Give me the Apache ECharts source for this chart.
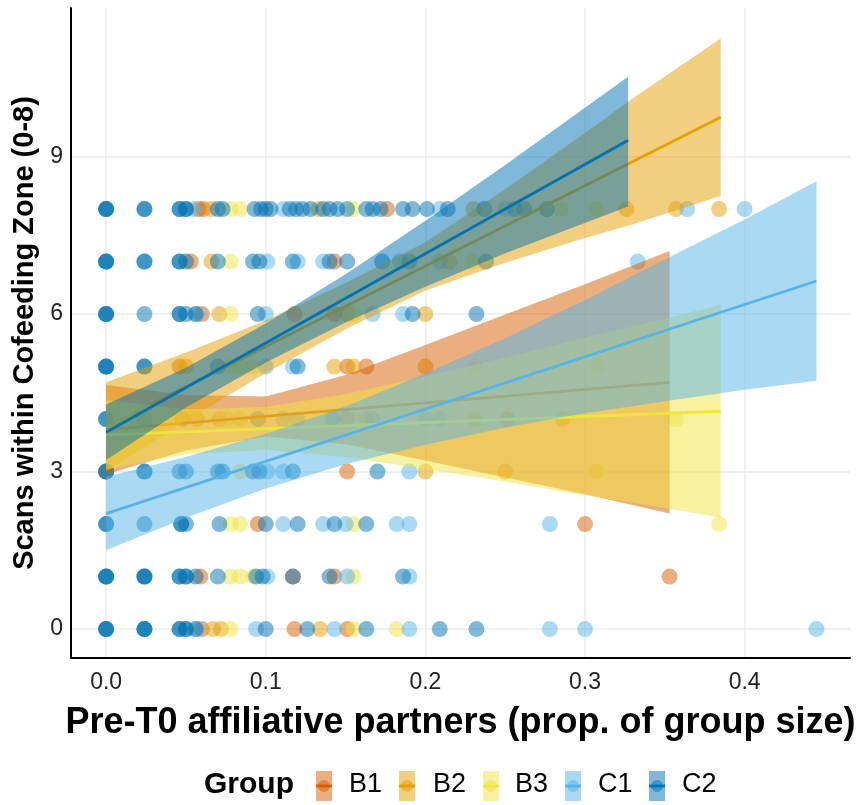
<!DOCTYPE html>
<html><head><meta charset="utf-8">
<script src="https://cdn.jsdelivr.net/npm/echarts@6/dist/echarts.min.js"></script>
<style>html,body{margin:0;padding:0;background:#fff}#c{width:861px;height:805px}</style>
</head><body><div id="c"></div>
<script>
const groups = ['B1','B2','B3','C1','C2'];
const colors = ['#D55E00','#E69F00','#F0E442','#56B4E9','#0072B2'];
const xTicks = [0, 0.1, 0.2, 0.3, 0.4];
const yTicks = [0, 3, 6, 9];
const xTitle = 'Pre-T0 affiliative partners (prop. of group size)';
const yTitle = 'Scans within Cofeeding Zone (0-8)';
const legendTitle = 'Group';

// observed points [x, y] per group
const ptsB1 = [[0.058,8],[0.061,8],[0.176,8],[0.053,7],[0.143,7],[0.06,6],[0.118,6],[0.143,6],
  [0.046,5],[0.151,5],[0.163,5],[0.048,4],[0.151,4],[0.251,4],[0,3],[0.151,3],[0.095,2],[0.3,2],
  [0.059,1],[0.117,1],[0.143,1],[0.353,1],[0.06,0],[0.118,0],[0.151,0]];
const ptsB2 = [[0.066,8],[0.133,8],[0.23,8],[0.326,8],[0.357,8],[0.384,8],[0.066,7],[0.215,7],
  [0.071,6],[0.151,6],[0.2,6],[0.05,5],[0.143,5],[0.155,5],[0.2,5],[0.057,4],[0.071,4],[0.163,4],
  [0.231,4],[0.286,4],[0.2,3],[0.25,3],[0.067,0],[0.072,0],[0.134,0]];
const ptsB3 = [[0.078,8],[0.084,8],[0.155,8],[0.285,8],[0.307,8],[0.078,7],[0.23,7],[0.078,6],[0.155,6],
  [0.078,5],[0.084,5],[0.092,5],[0.231,5],[0.308,5],[0.076,4],[0.084,4],[0.357,4],[0.084,3],[0.307,3],
  [0.078,2],[0.084,2],[0.155,2],[0.384,2],[0.078,1],[0.084,1],[0.092,1],[0.155,1],[0.078,0],[0.155,0],[0.182,0]];
const ptsC1 = [[0.055,8],[0.111,8],[0.209,8],[0.25,8],[0.364,8],[0.40,8],[0.101,7],[0.12,7],[0.136,7],
  [0.184,7],[0.209,7],[0.333,7],[0.057,6],[0.1,6],[0.167,6],[0.186,6],[0.1,5],[0.117,5],[0.111,4],[0.12,4],
  [0.167,4],[0.2,4],[0.209,4],[0.101,3],[0.111,3],[0.19,3],[0.111,2],[0.136,2],[0.15,2],[0.182,2],[0.19,2],
  [0.278,2],[0.101,1],[0.151,1],[0.19,1],[0.057,0],[0.094,0],[0.143,0],[0.19,0],[0.278,0],[0.3,0],[0.445,0]];
const ptsC2 = [[0,8],[0,8],[0,8],[0.024,8],[0.024,8],[0.046,8],[0.046,8],[0.05,8],[0.05,8],[0.07,8],[0.073,8],
  [0.093,8],[0.097,8],[0.1,8],[0.103,8],[0.115,8],[0.119,8],[0.123,8],[0.128,8],[0.136,8],[0.14,8],[0.145,8],
  [0.151,8],[0.163,8],[0.167,8],[0.172,8],[0.186,8],[0.192,8],[0.201,8],[0.214,8],[0.237,8],[0.256,8],[0.262,8],[0.276,8],
  [0,7],[0,7],[0,7],[0.024,7],[0.024,7],[0.046,7],[0.046,7],[0.05,7],[0.07,7],[0.092,7],[0.096,7],[0.117,7],
  [0.14,7],[0.151,7],[0.173,7],[0.19,7],[0.238,7],
  [0,6],[0,6],[0,6],[0.024,6],[0.046,6],[0.046,6],[0.05,6],[0.056,6],[0.095,6],[0.192,6],[0.232,6],
  [0,5],[0,5],[0,5],[0.024,5],[0.024,5],[0.07,5],[0.12,5],
  [0,4],[0,4],[0.024,4],[0.095,4],[0.142,4],
  [0,3],[0,3],[0.024,3],[0.024,3],[0.046,3],[0.05,3],[0.07,3],[0.073,3],[0.092,3],[0.096,3],[0.117,3],[0.17,3],
  [0,2],[0,2],[0.024,2],[0.047,2],[0.047,2],[0.05,2],[0.071,2],[0.1,2],[0.12,2],[0.143,2],[0.163,2],
  [0,1],[0,1],[0,1],[0.024,1],[0.024,1],[0.024,1],[0.046,1],[0.046,1],[0.05,1],[0.05,1],[0.056,1],[0.07,1],
  [0.094,1],[0.098,1],[0.117,1],[0.14,1],[0.186,1],
  [0,0],[0,0],[0,0],[0.024,0],[0.024,0],[0.024,0],[0.046,0],[0.046,0],[0.05,0],[0.05,0],[0.056,0],[0.1,0],
  [0.126,0],[0.163,0],[0.209,0],[0.232,0]];

// fitted lines (endpoints)
const fitB1 = [[0, 3.80], [0.353, 4.70]];
const fitB2 = [[0, 3.85], [0.385, 9.75]];
const fitB3 = [[0, 3.70], [0.385, 4.15]];
const fitC1 = [[0, 2.20], [0.445, 6.63]];
const fitC2 = [[0, 3.75], [0.327, 9.31]];

// confidence bands: x, lower, upper
const bandB1x = [0, 0.05, 0.1, 0.15, 0.2, 0.25, 0.3, 0.353];
const bandB1lo = [2.95, 3.40, 3.67, 3.52, 3.21, 2.89, 2.57, 2.20];
const bandB1hi = [4.65, 4.46, 4.43, 4.84, 5.41, 5.99, 6.57, 7.20];
const bandB2x = [0, 0.05, 0.1, 0.15, 0.2, 0.25, 0.3, 0.33, 0.385];
const bandB2lo = [3.00, 3.97, 4.88, 5.71, 6.45, 6.98, 7.45, 7.71, 8.25];
const bandB2hi = [4.70, 5.27, 5.88, 6.59, 7.37, 8.38, 9.45, 10.11, 11.25];
const bandB3x = [0, 0.05, 0.1, 0.15, 0.2, 0.25, 0.3, 0.35, 0.385];
const bandB3lo = [3.04, 3.33, 3.41, 3.28, 3.05, 2.81, 2.55, 2.31, 2.12];
const bandB3hi = [4.36, 4.19, 4.23, 4.48, 4.81, 5.17, 5.55, 5.91, 6.18];
const bandC1x = [0, 0.05, 0.1, 0.15, 0.2, 0.25, 0.3, 0.35, 0.4, 0.445];
const bandC1lo = [1.50, 2.12, 2.68, 3.14, 3.51, 3.84, 4.11, 4.34, 4.56, 4.73];
const bandC1hi = [2.90, 3.28, 3.72, 4.24, 4.87, 5.54, 6.27, 7.04, 7.80, 8.53];
const bandC2x = [0, 0.05, 0.1, 0.15, 0.2, 0.25, 0.327];
const bandC2lo = [3.22, 4.22, 5.08, 5.84, 6.52, 7.16, 8.05];
const bandC2hi = [4.28, 4.98, 5.82, 6.76, 7.78, 8.84, 10.52];

const pts = [ptsB1, ptsB2, ptsB3, ptsC1, ptsC2];
const fits = [fitB1, fitB2, fitB3, fitC1, fitC2];
const bands = [[bandB1x, bandB1lo, bandB1hi],[bandB2x, bandB2lo, bandB2hi],[bandB3x, bandB3lo, bandB3hi],
  [bandC1x, bandC1lo, bandC1hi],[bandC2x, bandC2lo, bandC2hi]];

const FONT = '"Liberation Sans", Arial, sans-serif';
const chart = echarts.init(document.getElementById('c'), null, {renderer: 'canvas'});

const series = [];
groups.forEach((g, i) => {
  series.push({type: 'scatter', name: g, data: pts[i], symbolSize: 16, z: 1, silent: true,
    itemStyle: {color: colors[i], opacity: 0.5}});
});
groups.forEach((g, i) => {
  const [bx, lo, hi] = bands[i];
  series.push({type: 'custom', name: g + ' band', z: 2 + 2 * i, silent: true,
    data: bx.map((x, k) => [x, lo[k], hi[k]]),
    encode: {x: 0, y: [1, 2]},
    renderItem: function (params, api) {
      if (params.dataIndex !== 0) return null;
      const p = [];
      for (let k = 0; k < bx.length; k++) p.push(api.coord([bx[k], lo[k]]));
      for (let k = bx.length - 1; k >= 0; k--) p.push(api.coord([bx[k], hi[k]]));
      return {type: 'polygon', shape: {points: p}, style: {fill: colors[i], opacity: 0.5}};
    }});
  series.push({type: 'line', name: g + ' fit', data: fits[i], symbol: 'none', z: 3 + 2 * i, silent: true,
    lineStyle: {color: colors[i], width: 2.8}});
});

// legend (ggplot-style key) as graphics
const legX = [316, 399, 483, 565, 649];
const legTextX = [349, 433, 515, 598, 682];
const legY = 786;
const graphics = [{type: 'text', left: 204, top: legY - 16, style: {text: legendTitle, font: 'bold 30px ' + FONT, fill: '#000'}}];
groups.forEach((g, i) => {
  graphics.push({type: 'rect', shape: {x: legX[i], y: legY - 15, width: 16, height: 30}, style: {fill: colors[i], opacity: 0.5}});
  graphics.push({type: 'line', shape: {x1: legX[i], y1: legY, x2: legX[i] + 16, y2: legY}, style: {stroke: colors[i], lineWidth: 2.8}});
  graphics.push({type: 'circle', shape: {cx: legX[i] + 8, cy: legY, r: 6}, style: {fill: colors[i], opacity: 0.5}});
  graphics.push({type: 'text', left: legTextX[i], top: legY - 15, style: {text: g, font: '27px ' + FONT, fill: '#000'}});
});

chart.setOption({
  animation: false,
  backgroundColor: '#fff',
  grid: {left: 71, right: 11, top: 8, bottom: 147, containLabel: false},
  xAxis: {type: 'value', min: -0.022, max: 0.466, splitNumber: 5,
    axisLine: {show: true, onZero: false, lineStyle: {color: '#000', width: 2}},
    axisTick: {show: false},
    axisLabel: {customValues: xTicks, formatter: v => v.toFixed(1), fontSize: 23, color: '#222', margin: 13, fontFamily: FONT},
    splitLine: {show: true, showMinLine: false, showMaxLine: false, lineStyle: {color: '#EBEBEB', width: 1.5}},
    name: xTitle, nameLocation: 'middle', nameGap: 47,
    nameTextStyle: {fontSize: 36, fontWeight: 'bold', color: '#000', fontFamily: FONT}},
  yAxis: {type: 'value', min: -0.55, max: 11.83, splitNumber: 4,
    axisLine: {show: true, onZero: false, lineStyle: {color: '#000', width: 2}},
    axisTick: {show: false},
    axisLabel: {customValues: yTicks, fontSize: 23, color: '#222', margin: 8, fontFamily: FONT},
    splitLine: {show: true, showMinLine: false, showMaxLine: false, lineStyle: {color: '#EBEBEB', width: 1.5}},
    name: yTitle, nameLocation: 'middle', nameGap: 30,
    nameTextStyle: {fontSize: 29, fontWeight: 'bold', color: '#000', fontFamily: FONT}},
  series: series,
  graphic: graphics
});
</script></body></html>
